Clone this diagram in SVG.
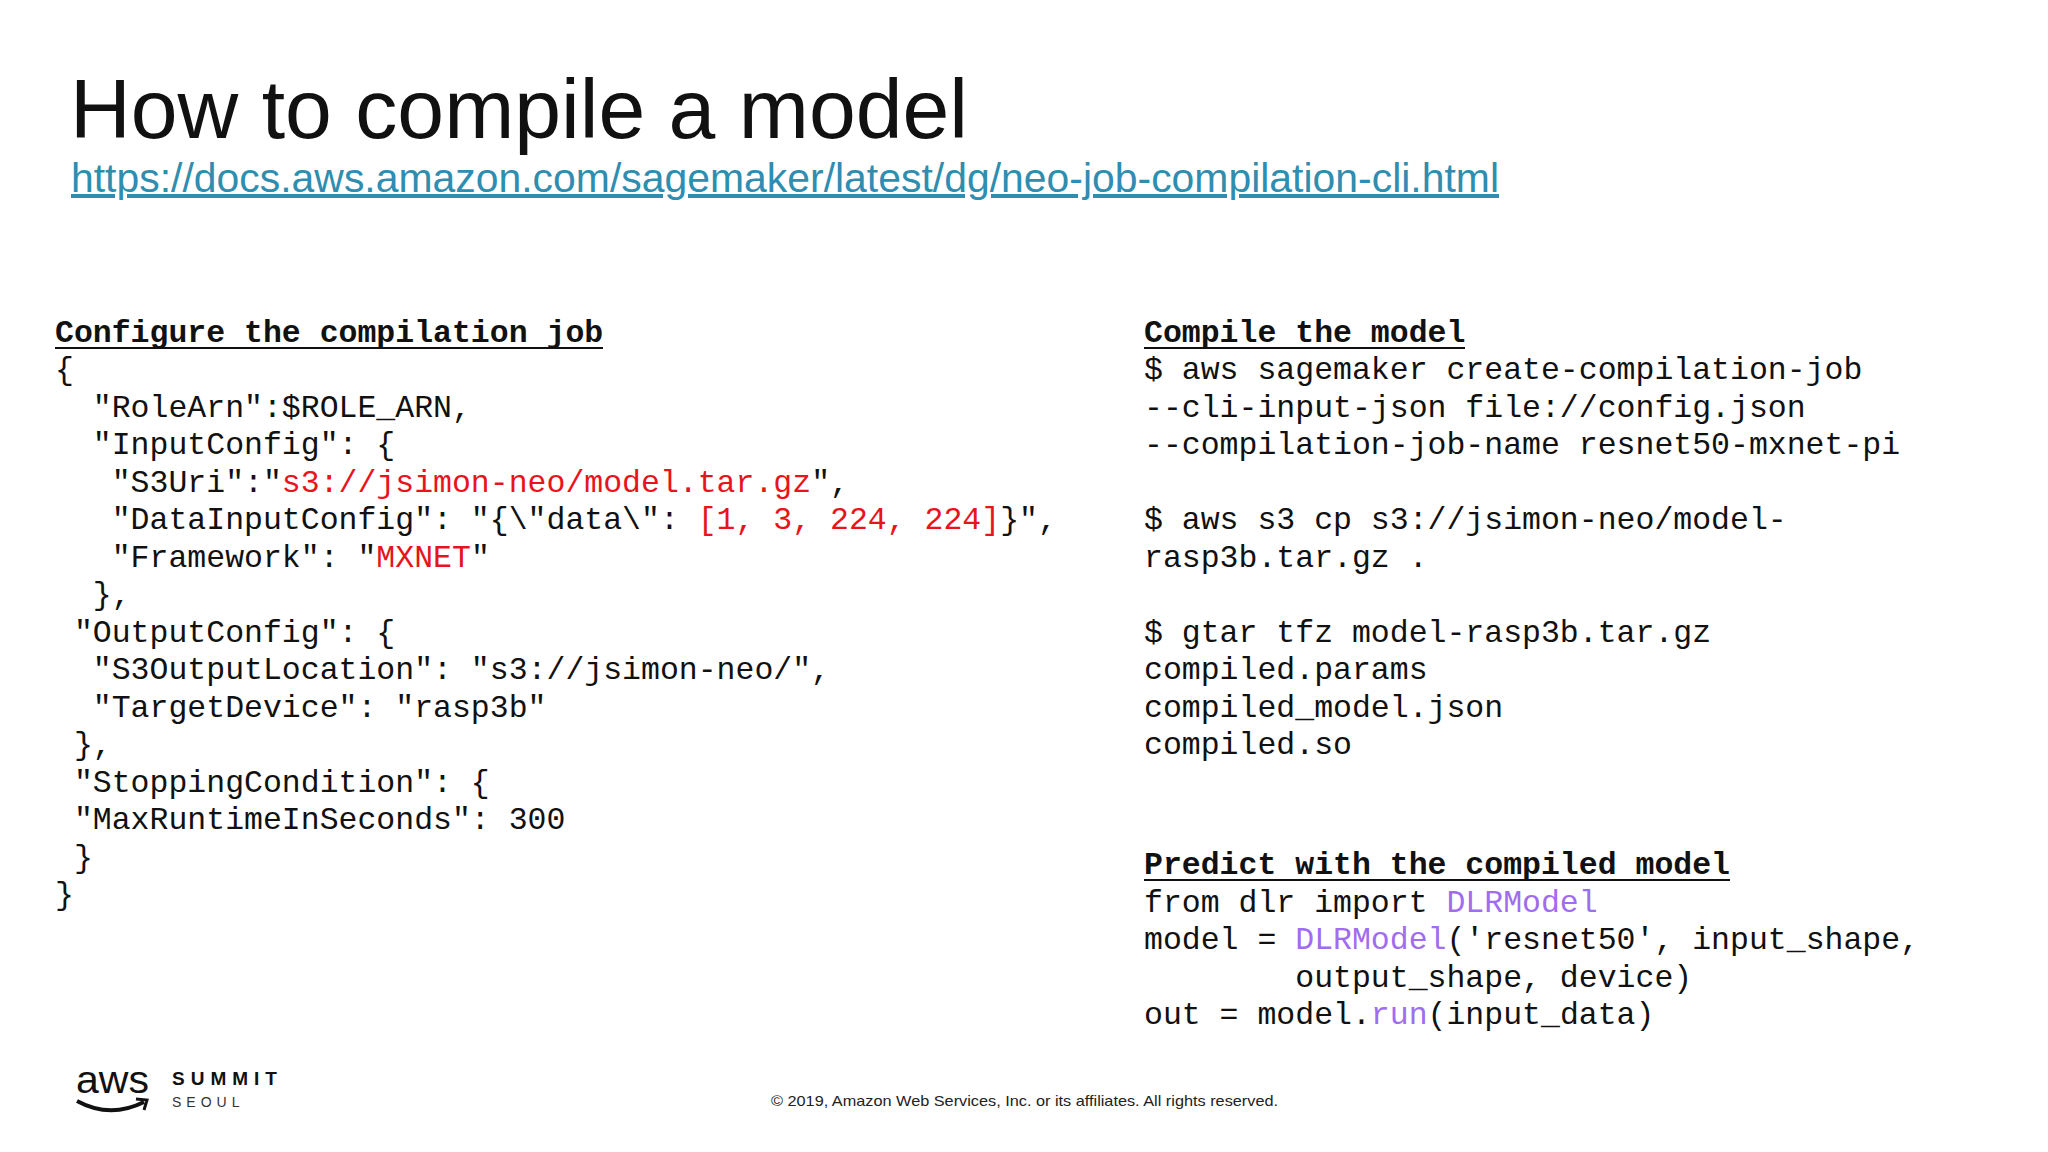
<svg xmlns="http://www.w3.org/2000/svg" width="2048" height="1152" viewBox="0 0 2048 1152">
<style>
.c{font-family:"Liberation Mono","DejaVu Sans Mono",monospace;font-size:31.5px;fill:#111;white-space:pre}
.r{fill:#e8141c}
.p{fill:#a06cf0}
</style>
<rect width="2048" height="1152" fill="#fff"/>
<g id="title">
<text x="70" y="138" font-family="Liberation Sans, Arial, sans-serif" font-size="84" fill="#111" textLength="898" lengthAdjust="spacingAndGlyphs">How to compile a model</text>
<text x="71" y="192" font-family="Liberation Sans, Arial, sans-serif" font-size="40" fill="#2f8db0" textLength="1428" lengthAdjust="spacingAndGlyphs" text-decoration="underline">https://docs.aws.amazon.com/sagemaker/latest/dg/neo-job-compilation-cli.html</text>
</g>
<g id="left" xml:space="preserve">
<text class="c" x="55" y="342" font-weight="bold">Configure the compilation job</text>
<line x1="55" y1="348" x2="603" y2="348" stroke="#111" stroke-width="2"/>
<text class="c" x="55" y="379">{</text>
<text class="c" x="55" y="417">  "RoleArn":$ROLE_ARN,</text>
<text class="c" x="55" y="454">  "InputConfig": {</text>
<text class="c" x="55" y="492">   "S3Uri":"<tspan class="r">s3://jsimon-neo/model.tar.gz</tspan>",</text>
<text class="c" x="55" y="529">   "DataInputConfig": "{\"data\": <tspan class="r">[1, 3, 224, 224]</tspan>}",</text>
<text class="c" x="55" y="567">   "Framework": "<tspan class="r">MXNET</tspan>"</text>
<text class="c" x="55" y="604">  },</text>
<text class="c" x="55" y="642"> "OutputConfig": {</text>
<text class="c" x="55" y="679">  "S3OutputLocation": "s3://jsimon-neo/",</text>
<text class="c" x="55" y="717">  "TargetDevice": "rasp3b"</text>
<text class="c" x="55" y="754"> },</text>
<text class="c" x="55" y="792"> "StoppingCondition": {</text>
<text class="c" x="55" y="829"> "MaxRuntimeInSeconds": 300</text>
<text class="c" x="55" y="867"> }</text>
<text class="c" x="55" y="904">}</text>
</g>
<g id="right" xml:space="preserve">
<text class="c" x="1144" y="342" font-weight="bold">Compile the model</text>
<line x1="1144" y1="348" x2="1465" y2="348" stroke="#111" stroke-width="2"/>
<text class="c" x="1144" y="379">$ aws sagemaker create-compilation-job</text>
<text class="c" x="1144" y="417">--cli-input-json file://config.json</text>
<text class="c" x="1144" y="454">--compilation-job-name resnet50-mxnet-pi</text>
<text class="c" x="1144" y="529">$ aws s3 cp s3://jsimon-neo/model-</text>
<text class="c" x="1144" y="567">rasp3b.tar.gz .</text>
<text class="c" x="1144" y="642">$ gtar tfz model-rasp3b.tar.gz</text>
<text class="c" x="1144" y="679">compiled.params</text>
<text class="c" x="1144" y="717">compiled_model.json</text>
<text class="c" x="1144" y="754">compiled.so</text>
<text class="c" x="1144" y="874" font-weight="bold">Predict with the compiled model</text>
<line x1="1144" y1="880" x2="1730" y2="880" stroke="#111" stroke-width="2"/>
<text class="c" x="1144" y="912">from dlr import <tspan class="p">DLRModel</tspan></text>
<text class="c" x="1144" y="949">model = <tspan class="p">DLRModel</tspan>('resnet50', input_shape,</text>
<text class="c" x="1144" y="987">        output_shape, device)</text>
<text class="c" x="1144" y="1024">out = model.<tspan class="p">run</tspan>(input_data)</text>
</g>
<g id="footer">
<text x="76" y="1093" font-family="Liberation Sans, Arial, sans-serif" font-size="38" fill="#111" textLength="73" lengthAdjust="spacingAndGlyphs">aws</text>
<path d="M77 1101 Q110 1119 144 1102" fill="none" stroke="#111" stroke-width="4"/>
<path d="M136 1099 L147 1100 L144 1110" fill="none" stroke="#111" stroke-width="3"/>
<text x="172" y="1085" font-family="Liberation Sans, Arial, sans-serif" font-size="19" font-weight="bold" letter-spacing="6" fill="#111">SUMMIT</text>
<text x="172" y="1107" font-family="Liberation Sans, Arial, sans-serif" font-size="14" letter-spacing="5" fill="#333">SEOUL</text>
<text x="771" y="1106" font-family="Liberation Sans, Arial, sans-serif" font-size="15" fill="#222" textLength="507" lengthAdjust="spacingAndGlyphs">© 2019, Amazon Web Services, Inc. or its affiliates. All rights reserved.</text>
</g>
</svg>
